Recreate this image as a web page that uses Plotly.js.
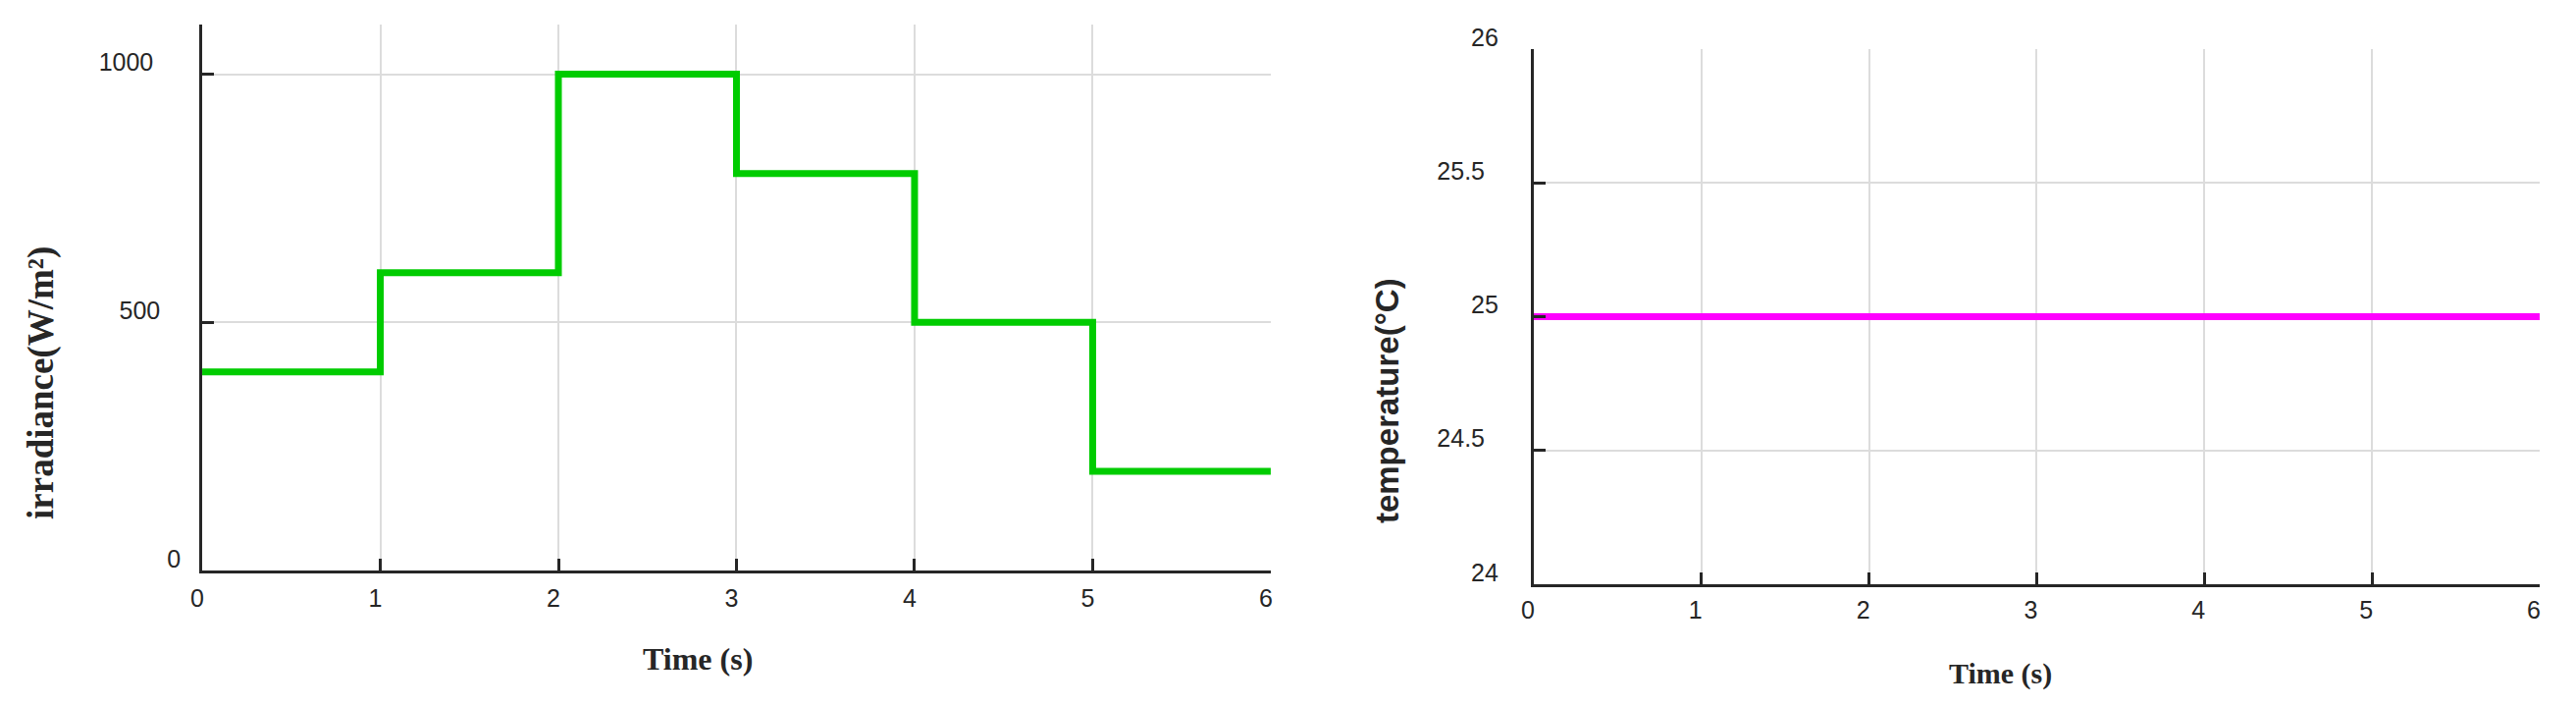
<!DOCTYPE html>
<html>
<head>
<meta charset="utf-8">
<script src="https://cdn.plot.ly/plotly-3.0.1.min.js"></script>
<style>
  html, body { margin: 0; padding: 0; background: #fff; }
  #plot { width: 2625px; height: 719px; }
</style>
</head>
<body>
<div id="plot"></div>
<script>
// step inputs of the PV model: irradiance and cell temperature vs time
const time = [0, 1, 2, 3, 4, 5, 6];
const irradiance = [400, 600, 1000, 800, 500, 200, 200];

const tempTime = [0, 6];
const temperature = [25, 25];

const timeTicks = [0, 1, 2, 3, 4, 5, 6];
const irrTickVals = [0, 500, 1000];
const irrTickText = ['0', '500\u00a0\u00a0\u00a0', '1000\u00a0\u00a0\u00a0\u00a0'];
const tempTickVals = [24, 24.5, 25, 25.5, 26];
const tempTickText = ['24', '24.5\u00a0\u00a0', '25', '25.5\u00a0\u00a0', '26'];

const ink = '#262626';
const grid = '#dcdcdc';
const tickFont = { family: 'Liberation Sans, Arial, sans-serif', size: 25, color: ink };

// shared look for all four axes
const axisBase = {
    showline: true,
    linecolor: ink,
    linewidth: 3,
    ticks: 'inside',
    ticklen: 12,
    tickwidth: 3,
    tickcolor: ink,
    showgrid: true,
    gridcolor: grid,
    gridwidth: 2,
    zeroline: false,
    tickfont: tickFont,
    fixedrange: true
};

const data = [
    {
        x: time, y: irradiance,
        type: 'scatter', mode: 'lines',
        line: { shape: 'hv', color: '#00cc00', width: 7 },
        xaxis: 'x', yaxis: 'y',
        showlegend: false, hoverinfo: 'x+y'
    },
    {
        x: tempTime, y: temperature,
        type: 'scatter', mode: 'lines',
        line: { color: '#ff00ff', width: 7 },
        xaxis: 'x2', yaxis: 'y2',
        showlegend: false, hoverinfo: 'x+y'
    }
];

const layout = {
    width: 2625,
    height: 719,
    margin: { l: 0, r: 0, t: 0, b: 0 },
    paper_bgcolor: '#ffffff',
    plot_bgcolor: '#ffffff',
    xaxis: Object.assign({}, axisBase, {
        domain: [0.0785, 0.4933], range: [0, 6], anchor: 'y',
        tickvals: timeTicks, ticklabelshift: -5, ticklabelstandoff: 4
    }),
    yaxis: Object.assign({}, axisBase, {
        domain: [0.1919, 0.9652], range: [0, 1100], anchor: 'x',
        tickvals: irrTickVals, ticktext: irrTickText,
        ticklabelshift: -12, ticklabelstandoff: 14
    }),
    xaxis2: Object.assign({}, axisBase, {
        domain: [0.5954, 0.9859], range: [0, 6], anchor: 'y2',
        tickvals: timeTicks, ticklabelshift: -6, ticklabelstandoff: 2
    }),
    yaxis2: Object.assign({}, axisBase, {
        domain: [0.1725, 0.9305], range: [24, 26], anchor: 'x2',
        tickvals: tempTickVals, ticktext: tempTickText,
        ticklabelshift: -12, ticklabelstandoff: 28
    }),
    annotations: [
        {
            text: '<b>Time (s)</b>', xref: 'paper', yref: 'paper',
            x: 0.2709, y: 0.0668, xanchor: 'center', yanchor: 'middle', showarrow: false,
            font: { family: 'Liberation Serif, Times New Roman, serif', size: 32, color: ink }
        },
        {
            text: '<b>irradiance(W/m²)</b>', xref: 'paper', yref: 'paper',
            x: 0.016, y: 0.4576, xanchor: 'center', yanchor: 'middle', showarrow: false,
            textangle: -90,
            font: { family: 'Liberation Serif, Times New Roman, serif', size: 37, color: ink }
        },
        {
            text: '<b>Time (s)</b>', xref: 'paper', yref: 'paper',
            x: 0.7764, y: 0.0459, xanchor: 'center', yanchor: 'middle', showarrow: false,
            font: { family: 'Liberation Serif, Times New Roman, serif', size: 30, color: ink }
        },
        {
            text: '<b>temperature(°C)</b>', xref: 'paper', yref: 'paper',
            x: 0.5383, y: 0.4325, xanchor: 'center', yanchor: 'middle', showarrow: false,
            textangle: -90,
            font: { family: 'Liberation Sans, Arial, sans-serif', size: 33, color: ink }
        }
    ]
};

const config = { responsive: false, displayModeBar: false, staticPlot: true };

Plotly.newPlot('plot', data, layout, config);
</script>
</body>
</html>
